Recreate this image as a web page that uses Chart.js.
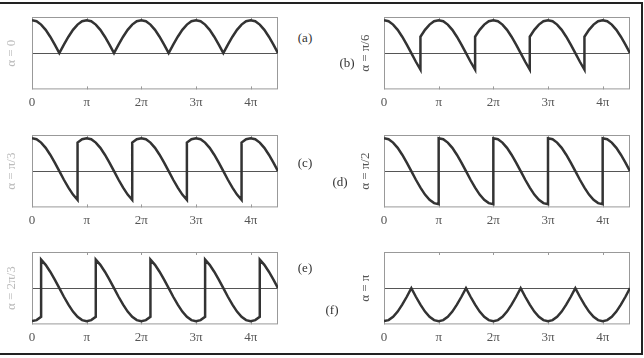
<!DOCTYPE html>
<html>
<head>
<meta charset="utf-8">
<script src="https://cdn.jsdelivr.net/npm/chart.js@4"></script>
<style>
  body { margin: 0; background: #fff; width: 644px; height: 358px; position: relative; overflow: hidden; font-family: "Liberation Serif", serif; }
  .box { position: absolute; left: -2px; top: 2px; width: 641px; height: 349px; border: 2px solid #222; }
  canvas { position: absolute; }
  .tag { position: absolute; font-size: 13px; color: #333; transform: translate(-50%, -50%); }
</style>
</head>
<body>
<div class="box"></div>
<canvas id="pa" width="282" height="108" style="left:0;top:7px"></canvas>
<canvas id="pb" width="282" height="108" style="left:352px;top:7px"></canvas>
<canvas id="pc" width="282" height="108" style="left:0;top:125px"></canvas>
<canvas id="pd" width="282" height="108" style="left:352px;top:125px"></canvas>
<canvas id="pe" width="282" height="108" style="left:0;top:242px"></canvas>
<canvas id="pf" width="282" height="108" style="left:352px;top:242px"></canvas>
<div class="tag" style="left:305px;top:38px">(a)</div>
<div class="tag" style="left:347px;top:63px">(b)</div>
<div class="tag" style="left:305px;top:163px">(c)</div>
<div class="tag" style="left:340px;top:182px">(d)</div>
<div class="tag" style="left:305px;top:268px">(e)</div>
<div class="tag" style="left:332px;top:310px">(f)</div>
<script>
// x runs in steps of pi/12, from 0 to 4.5 pi (54 steps)
const piTicks = [0, 12, 24, 36, 48]
const piLabels = ['0', 'π', '2π', '3π', '4π']

// output voltage, one value per step
// (a jump repeats its step once: value before, then value after)
const alpha0 = [1, .97, .87, .71, .5, .26, 0, .26, .5, .71, .87, .97,
  1, .97, .87, .71, .5, .26, 0, .26, .5, .71, .87, .97,
  1, .97, .87, .71, .5, .26, 0, .26, .5, .71, .87, .97,
  1, .97, .87, .71, .5, .26, 0, .26, .5, .71, .87, .97,
  1, .97, .87, .71, .5, .26, 0]
const jumps0 = []

const alphaPi6 = [1, .97, .87, .71, .5, .26, 0, -.26, -.5,
  .5, .71, .87, .97, 1, .97, .87, .71, .5, .26, 0, -.26, -.5,
  .5, .71, .87, .97, 1, .97, .87, .71, .5, .26, 0, -.26, -.5,
  .5, .71, .87, .97, 1, .97, .87, .71, .5, .26, 0, -.26, -.5,
  .5, .71, .87, .97, 1, .97, .87, .71, .5, .26, 0]
const jumpsPi6 = [8, 20, 32, 44]

const alphaPi3 = [1, .97, .87, .71, .5, .26, 0, -.26, -.5, -.71, -.87,
  .87, .97, 1, .97, .87, .71, .5, .26, 0, -.26, -.5, -.71, -.87,
  .87, .97, 1, .97, .87, .71, .5, .26, 0, -.26, -.5, -.71, -.87,
  .87, .97, 1, .97, .87, .71, .5, .26, 0, -.26, -.5, -.71, -.87,
  .87, .97, 1, .97, .87, .71, .5, .26, 0]
const jumpsPi3 = [10, 22, 34, 46]

const alphaPi2 = [1, .97, .87, .71, .5, .26, 0, -.26, -.5, -.71, -.87, -.97, -1,
  1, .97, .87, .71, .5, .26, 0, -.26, -.5, -.71, -.87, -.97, -1,
  1, .97, .87, .71, .5, .26, 0, -.26, -.5, -.71, -.87, -.97, -1,
  1, .97, .87, .71, .5, .26, 0, -.26, -.5, -.71, -.87, -.97, -1,
  1, .97, .87, .71, .5, .26, 0]
const jumpsPi2 = [12, 24, 36, 48]

const alpha2Pi3 = [-1, -.97, -.87,
  .87, .71, .5, .26, 0, -.26, -.5, -.71, -.87, -.97, -1, -.97, -.87,
  .87, .71, .5, .26, 0, -.26, -.5, -.71, -.87, -.97, -1, -.97, -.87,
  .87, .71, .5, .26, 0, -.26, -.5, -.71, -.87, -.97, -1, -.97, -.87,
  .87, .71, .5, .26, 0, -.26, -.5, -.71, -.87, -.97, -1, -.97, -.87,
  .87, .71, .5, .26, 0]
const jumps2Pi3 = [2, 14, 26, 38, 50]

const alphaPi = [-1, -.97, -.87, -.71, -.5, -.26, 0, -.26, -.5, -.71, -.87, -.97,
  -1, -.97, -.87, -.71, -.5, -.26, 0, -.26, -.5, -.71, -.87, -.97,
  -1, -.97, -.87, -.71, -.5, -.26, 0, -.26, -.5, -.71, -.87, -.97,
  -1, -.97, -.87, -.71, -.5, -.26, 0, -.26, -.5, -.71, -.87, -.97,
  -1, -.97, -.87, -.71, -.5, -.26, 0]
const jumpsPi = []

function toPoints(ys, jumps) {
  const pts = []
  let k = 0, held = false
  ys.forEach(y => {
    pts.push({ x: k, y })
    if (jumps.includes(k) && !held) {
      held = true
    } else {
      held = false
      k++
    }
  })
  return pts
}

// box round the plot area, with small inward ticks at multiples of pi
const frame = {
  id: 'frame',
  beforeDatasetsDraw(chart) {
    const { ctx, chartArea: a, scales: { x } } = chart
    ctx.save()
    ctx.strokeStyle = '#999'
    ctx.lineWidth = 1
    ctx.strokeRect(a.left + 0.5, a.top + 0.5, a.width - 1, a.height - 1)
    ctx.beginPath()
    piTicks.forEach(v => {
      const px = Math.round(x.getPixelForValue(v)) + 0.5
      ctx.moveTo(px, a.top); ctx.lineTo(px, a.top + 3)
      ctx.moveTo(px, a.bottom); ctx.lineTo(px, a.bottom - 3)
    })
    ctx.stroke()
    ctx.restore()
  }
}

function drawPanel(id, ys, jumps, title, titleColor, padOut, padIn) {
  new Chart(document.getElementById(id), {
    type: 'line',
    data: {
      datasets: [{
        data: toPoints(ys, jumps),
        borderColor: '#333',
        borderWidth: 2.5,
        pointRadius: 0,
        tension: 0,
        fill: false
      }]
    },
    options: {
      responsive: false,
      animation: false,
      devicePixelRatio: 1,
      layout: { padding: { top: 10, right: 4, bottom: 0, left: 0 } },
      plugins: { legend: { display: false }, tooltip: { enabled: false } },
      scales: {
        x: {
          type: 'linear',
          min: 0,
          max: 54,
          afterBuildTicks: s => { s.ticks = piTicks.map(v => ({ value: v })) },
          grid: { display: false, drawTicks: false },
          border: { display: false },
          ticks: {
            padding: 5,
            color: '#555',
            font: { family: '"Liberation Serif", serif', size: 13 },
            callback: v => piLabels[piTicks.indexOf(v)]
          }
        },
        y: {
          min: -1.1,
          max: 1.1,
          afterBuildTicks: s => { s.ticks = [{ value: 0 }] },
          grid: { color: '#555', lineWidth: 1, drawTicks: false },
          border: { display: false },
          ticks: { display: false },
          title: {
            display: true,
            text: title,
            color: titleColor,
            padding: { top: padOut, bottom: padIn },
            font: { family: '"Liberation Serif", serif', size: 13 }
          }
        }
      }
    },
    plugins: [frame]
  })
}

drawPanel('pa', alpha0, jumps0, 'α = 0', '#bbb', 4.2, 12.2)
drawPanel('pb', alphaPi6, jumpsPi6, 'α = π/6', '#555', 6.2, 10.2)
drawPanel('pc', alphaPi3, jumpsPi3, 'α = π/3', '#bbb', 4.2, 12.2)
drawPanel('pd', alphaPi2, jumpsPi2, 'α = π/2', '#555', 6.2, 10.2)
drawPanel('pe', alpha2Pi3, jumps2Pi3, 'α = 2π/3', '#bbb', 4.2, 12.2)
drawPanel('pf', alphaPi, jumpsPi, 'α = π', '#555', 6.2, 10.2)
</script>
</body>
</html>
